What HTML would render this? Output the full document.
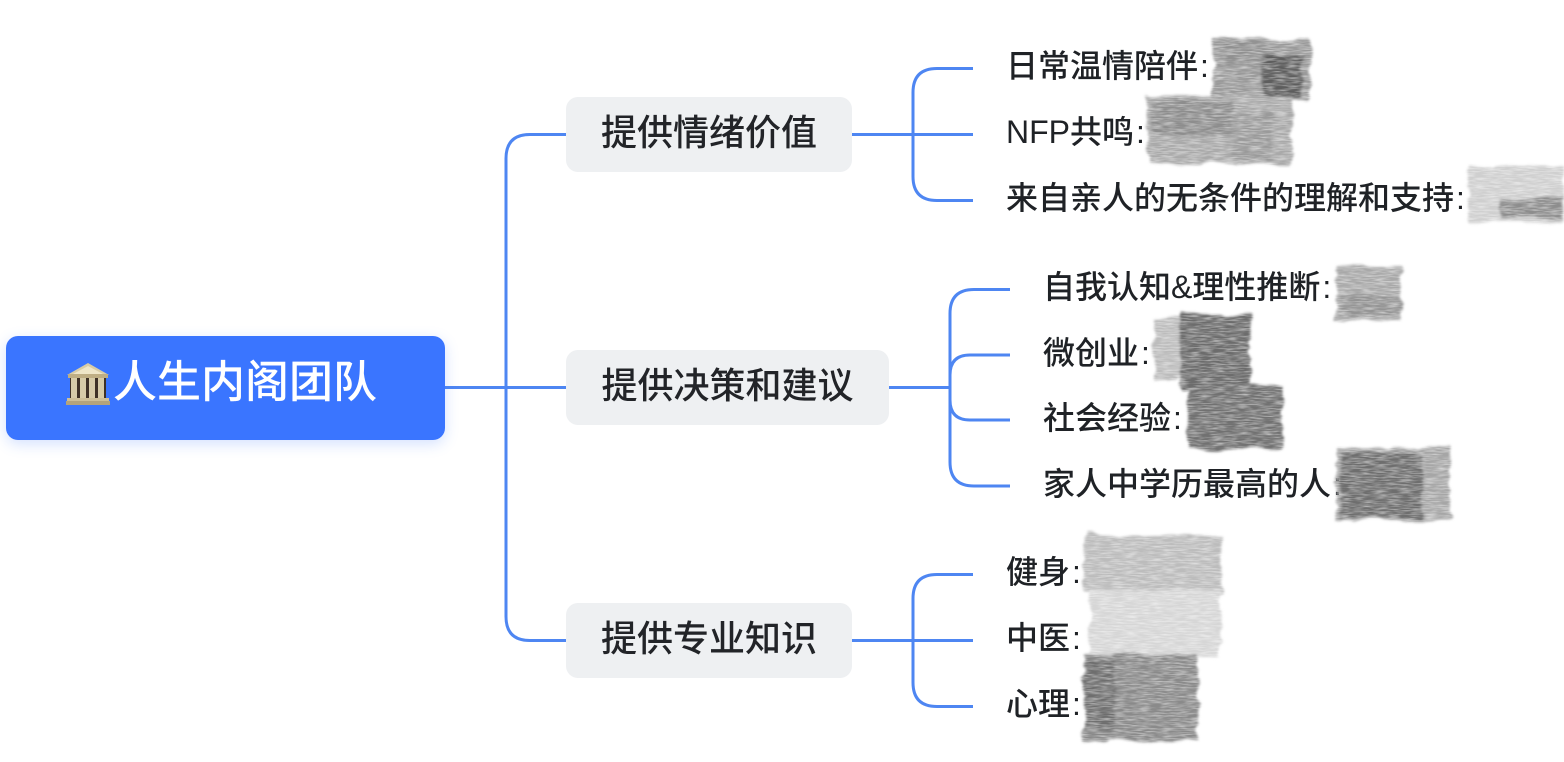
<!DOCTYPE html>
<html>
<head>
<meta charset="utf-8">
<style>
  html, body { margin:0; padding:0; background:#ffffff; }
  body { width:1564px; height:762px; position:relative; overflow:hidden;
         font-family:"Liberation Sans","Noto Sans CJK SC",sans-serif; }
  .root { position:absolute; left:6px; top:336px; width:439px; height:104px;
          background:#3a75ff; border-radius:12px;
          box-shadow:0 4px 14px rgba(58,117,255,0.22); }
  .rootText { position:absolute; left:113px; top:360.5px; font-size:44px; line-height:44px; color:#ffffff; white-space:nowrap; font-weight:500; }
  .l1 { position:absolute; left:566px; height:75px; background:#eef0f2; border-radius:12px; }
  .l1t { position:absolute; left:566px; font-size:36px; line-height:36px; color:#222428; text-align:center; white-space:nowrap; font-weight:500; }
  .leaf { position:absolute; font-size:32px; line-height:32px; color:#1f2226; white-space:nowrap; font-weight:500; }
  .c { margin-left:2px; }
</style>
</head>
<body>

<svg width="1564" height="762" style="position:absolute;left:0;top:0" xmlns="http://www.w3.org/2000/svg">
  <g fill="none" stroke="#4e86f2" stroke-width="3" stroke-linecap="butt">
    <path d="M445,387.5 H566"/>
    <path d="M566,134.5 H530 Q506,134.5 506,158.5 V616.5 Q506,640.5 530,640.5 H566"/>
    <path d="M852,134.5 H973"/>
    <path d="M913,134.5 V92.5 Q913,68.5 937,68.5 H973"/>
    <path d="M913,134.5 V176.5 Q913,200.5 937,200.5 H973"/>
    <path d="M889,387.5 H950"/>
    <path d="M950,387.5 V313.5 Q950,289.5 974,289.5 H1010"/>
    <path d="M950,387.5 V375 Q950,355 970,355 H1010"/>
    <path d="M950,387.5 V400 Q950,420 970,420 H1010"/>
    <path d="M950,387.5 V462 Q950,486 974,486 H1010"/>
    <path d="M852,640.5 H973"/>
    <path d="M913,640.5 V598.5 Q913,574.5 937,574.5 H973"/>
    <path d="M913,640.5 V682.5 Q913,706.5 937,706.5 H973"/>
  </g>
</svg>

<div class="root"></div>
<svg width="46" height="46" style="position:absolute;left:65px;top:361px" viewBox="65 361 46 46" xmlns="http://www.w3.org/2000/svg">
  <polygon points="88,363 67,375 109,375" fill="#d8cca6"/>
  <polygon points="88,366 73,374 103,374" fill="#efe6c8"/>
  <rect x="68" y="374" width="40" height="4" fill="#bfae84"/>
  <rect x="70" y="378" width="36" height="20" fill="#3e3126"/>
  <rect x="71" y="378" width="6" height="20" fill="#d6cba8"/>
  <rect x="80" y="378" width="6" height="20" fill="#d6cba8"/>
  <rect x="89" y="378" width="6" height="20" fill="#d6cba8"/>
  <rect x="98" y="378" width="6" height="20" fill="#d6cba8"/>
  <rect x="67" y="398" width="42" height="3" fill="#cdbf98"/>
  <rect x="66" y="401" width="44" height="4" fill="#b3a37c"/>
</svg>
<div class="rootText">人生内阁团队</div>

<div class="l1" style="top:97px;width:286px;"></div>
<div class="l1t" style="top:114.5px;width:286px;">提供情绪价值</div>
<div class="l1" style="top:350px;width:323px;"></div>
<div class="l1t" style="top:367.5px;width:323px;">提供决策和建议</div>
<div class="l1" style="top:603px;width:286px;"></div>
<div class="l1t" style="top:620.5px;width:286px;">提供专业知识</div>

<div class="leaf" style="left:1006px;top:50px;">日常温情陪伴<span class="c">:</span></div>
<div class="leaf" style="left:1006px;top:116px;">NFP共鸣<span class="c">:</span></div>
<div class="leaf" style="left:1006px;top:182px;">来自亲人的无条件的理解和支持<span class="c">:</span></div>
<div class="leaf" style="left:1043px;top:271px;">自我认知&amp;理性推断<span class="c">:</span></div>
<div class="leaf" style="left:1043px;top:336.5px;">微创业<span class="c">:</span></div>
<div class="leaf" style="left:1043px;top:401.5px;">社会经验<span class="c">:</span></div>
<div class="leaf" style="left:1043px;top:467.5px;">家人中学历最高的人<span class="c">:</span></div>
<div class="leaf" style="left:1006px;top:556px;">健身<span class="c">:</span></div>
<div class="leaf" style="left:1006px;top:622px;">中医<span class="c">:</span></div>
<div class="leaf" style="left:1006px;top:688px;">心理<span class="c">:</span></div>

<svg width="1564" height="762" style="position:absolute;left:0;top:0" xmlns="http://www.w3.org/2000/svg">
  <defs>
    <filter id="pn" x="0" y="0" width="1564" height="762" filterUnits="userSpaceOnUse">
      <feTurbulence type="fractalNoise" baseFrequency="0.03 0.08" numOctaves="3" seed="7" result="t"/>
      <feDisplacementMap in="SourceGraphic" in2="t" scale="10" xChannelSelector="R" yChannelSelector="G" result="d0"/>
      <feGaussianBlur in="d0" stdDeviation="1.2" result="d"/>
      <feTurbulence type="fractalNoise" baseFrequency="0.08 0.7" numOctaves="2" seed="3" result="g"/>
      <feColorMatrix in="g" type="matrix" values="0 0 0 0 0  0 0 0 0 0  0 0 0 0 0  1.1 0 0 0 0.3" result="ga"/>
      <feComposite in="d" in2="ga" operator="in"/>
    </filter>
  </defs>
  <g filter="url(#pn)">
    <rect x="1213" y="38" width="98" height="62" fill="#9a9a9a"/>
    <rect x="1262" y="56" width="40" height="42" fill="#4e4e4e" opacity="0.8"/>
    <rect x="1225" y="40" width="40" height="25" fill="#8a8a8a" opacity="0.6"/>
    <rect x="1148" y="96" width="144" height="68" fill="#a9a9a9"/>
    <rect x="1152" y="100" width="80" height="36" fill="#7c7c7c" opacity="0.6"/>
    <rect x="1232" y="112" width="40" height="48" fill="#8c8c8c" opacity="0.5"/>
    <rect x="1468" y="166" width="96" height="56" fill="#cfcfcf"/>
    <rect x="1500" y="198" width="62" height="20" fill="#777777" opacity="0.75"/>
    <rect x="1336" y="265" width="65" height="56" fill="#a8a8a8"/>
    <rect x="1340" y="294" width="60" height="22" fill="#858585" opacity="0.6"/>
    <rect x="1154" y="318" width="32" height="62" fill="#bcbcbc"/>
    <rect x="1180" y="314" width="70" height="74" fill="#6c6c6c"/>
    <rect x="1188" y="385" width="94" height="64" fill="#717171"/>
    <rect x="1336" y="448" width="114" height="72" fill="#a6a6a6"/>
    <rect x="1340" y="452" width="82" height="66" fill="#646464" opacity="0.85"/>
    <rect x="1084" y="535" width="138" height="58" fill="#bcbcbc"/>
    <rect x="1090" y="590" width="130" height="68" fill="#d6d6d6"/>
    <rect x="1084" y="655" width="114" height="86" fill="#8a8a8a"/>
    <rect x="1085" y="660" width="30" height="70" fill="#5c5c5c" opacity="0.6"/>
  </g>
</svg>

</body>
</html>
